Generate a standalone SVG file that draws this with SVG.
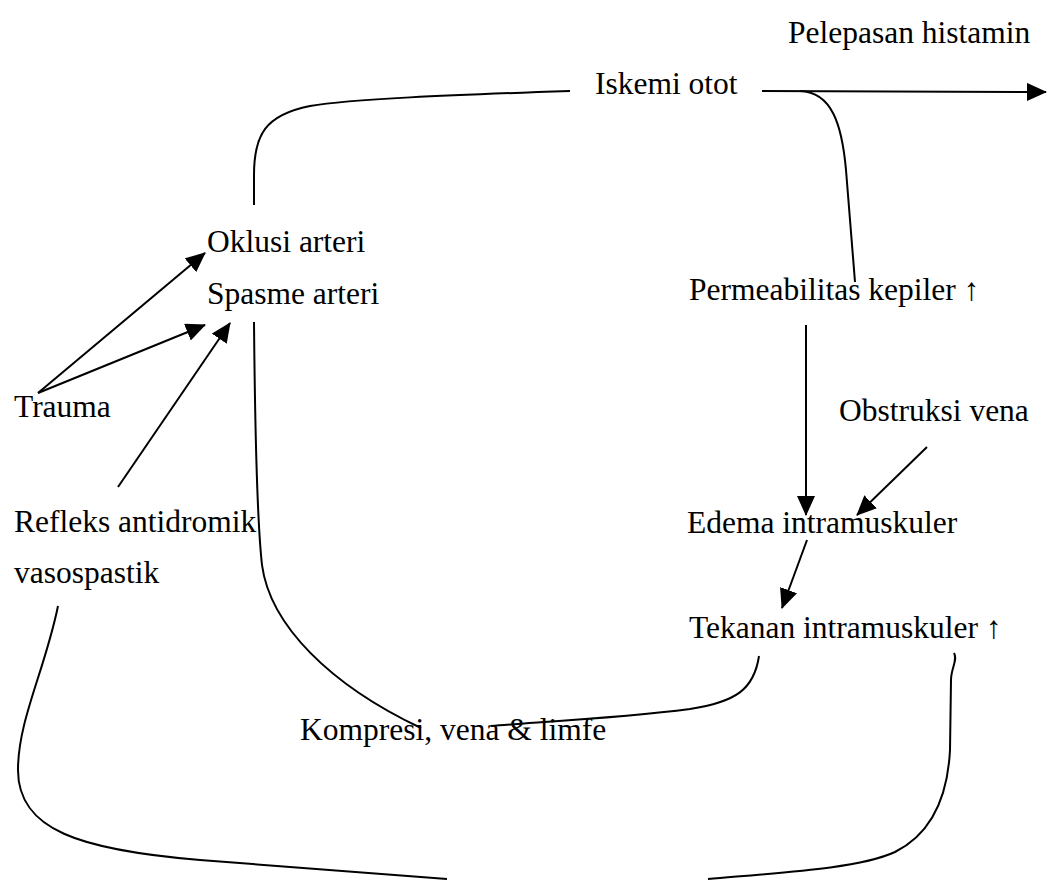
<svg xmlns="http://www.w3.org/2000/svg" width="1050" height="881" viewBox="0 0 1050 881">
<style>
text{font-family:"Liberation Serif","Times New Roman",serif;font-size:31.5px;fill:#000}
.c{fill:none;stroke:#000;stroke-width:2}
</style>
<defs>
<marker id="ah" viewBox="0 0 20 18" refX="19" refY="9" markerWidth="20" markerHeight="18" markerUnits="userSpaceOnUse" orient="auto">
<path d="M0,0 L20,9 L0,18 z" fill="#000"/>
</marker>
</defs>
<rect width="1050" height="881" fill="#fff"/>
<g id="connectors">
<path class="c" d="M254,205 L254,175 C254,135 265,115 310,106 C350,99 450,95 570,91"/>
<path class="c" d="M762,91 L1046,92" marker-end="url(#ah)"/>
<path class="c" d="M800,91 C832,92 842,125 846,170 L855,282"/>
<path class="c" d="M38,393 L205,253" marker-end="url(#ah)"/>
<path class="c" d="M38,393 L205,325" marker-end="url(#ah)"/>
<path class="c" d="M118,487 L230,323" marker-end="url(#ah)"/>
<path class="c" d="M806,325 L806,515" marker-end="url(#ah)"/>
<path class="c" d="M927,447 L857,515" marker-end="url(#ah)"/>
<path class="c" d="M807,540 L782,608" marker-end="url(#ah)"/>
<path class="c" d="M254,322 C255,430 257,520 262,565 C270,625 330,685 421,728"/>
<path class="c" d="M759,656 C754,690 735,702 690,709 C620,718 540,722 491,726"/>
<path class="c" d="M58,606 C45,670 18,720 18,770 C18,830 80,850 200,860 C300,868 400,875 447,879"/>
<path class="c" d="M708,879 C790,872 860,868 895,852 C935,832 948,790 950,750 L951,680 C951,668 958,660 954,653"/>
</g>
<g id="n-pelepasan"><text x="788" y="43">Pelepasan histamin</text></g>
<g id="n-iskemi"><text x="595" y="94">Iskemi otot</text></g>
<g id="n-oklusi"><text x="207" y="252">Oklusi arteri</text></g>
<g id="n-spasme"><text x="207" y="304">Spasme arteri</text></g>
<g id="n-permeabilitas"><text x="689" y="300">Permeabilitas kepiler ↑</text></g>
<g id="n-trauma"><text x="14" y="417">Trauma</text></g>
<g id="n-obstruksi"><text x="839" y="421">Obstruksi vena</text></g>
<g id="n-refleks"><text x="14" y="532">Refleks antidromik</text><text x="14" y="583">vasospastik</text></g>
<g id="n-edema"><text x="687" y="533">Edema intramuskuler</text></g>
<g id="n-tekanan"><text x="689" y="638">Tekanan intramuskuler ↑</text></g>
<g id="n-kompresi"><text x="300" y="740">Kompresi, vena &amp; limfe</text></g>
</svg>
